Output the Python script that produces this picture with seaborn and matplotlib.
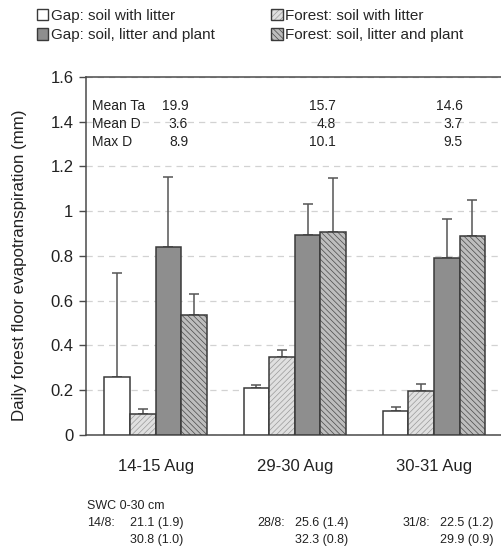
import matplotlib
matplotlib.use("Agg")
import matplotlib.pyplot as plt
from matplotlib.colors import to_rgba
from matplotlib.patches import Patch
import numpy as np
import pandas as pd
import seaborn as sns

# --- data -------------------------------------------------------------
periods = ["14-15 Aug", "29-30 Aug", "30-31 Aug"]
treatments = [
    "Gap: soil with litter",
    "Forest: soil with litter",
    "Gap: soil, litter and plant",
    "Forest: soil, litter and plant",
]
gap_litter = [0.26, 0.21, 0.107]
forest_litter = [0.093, 0.35, 0.196]
gap_plant = [0.841, 0.894, 0.789]
forest_plant = [0.536, 0.905, 0.888]

gap_litter_sd = [0.462, 0.012, 0.017]
forest_litter_sd = [0.022, 0.03, 0.032]
gap_plant_sd = [0.314, 0.14, 0.178]
forest_plant_sd = [0.092, 0.245, 0.161]

mean_ta = ["19.9", "15.7", "14.6"]
mean_d = ["3.6", "4.8", "3.7"]
max_d = ["8.9", "10.1", "9.5"]
swc_dates = ["14/8:", "28/8:", "31/8:"]
swc_gap = ["21.1 (1.9)", "25.6 (1.4)", "22.5 (1.2)"]
swc_forest = ["30.8 (1.0)", "32.3 (0.8)", "29.9 (0.9)"]

values = [gap_litter, forest_litter, gap_plant, forest_plant]
errors = [gap_litter_sd, forest_litter_sd, gap_plant_sd, forest_plant_sd]

df = pd.DataFrame(
    [(p, t, values[j][i], errors[j][i])
     for j, t in enumerate(treatments) for i, p in enumerate(periods)],
    columns=["period", "treatment", "et", "sd"],
)

# --- style ------------------------------------------------------------
sns.set_theme(style="white")
plt.rcParams["font.family"] = ["Liberation Sans", "DejaVu Sans"]
plt.rcParams["hatch.linewidth"] = 0.5

faces = ["#ffffff", "#e0e0e0", "#8e8e8e", "#bdbdbd"]
hatches = [None, "//////", None, "\\\\\\\\\\\\"]
hatch_colors = [None, "#9a9a9a", None, "#4a4a4a"]
edge = "#3a3a3a"
txt = "#222222"


def style_patch(p, j):
    p.set_facecolor(faces[j])
    p.set_edgecolor(edge)
    if hatches[j]:
        p.set_hatch(hatches[j])
        p._hatch_color = to_rgba(hatch_colors[j])


fig = plt.figure(figsize=(5.02, 5.47), dpi=100)
ax = fig.add_axes([0.1713, 0.2048, 0.832, 0.6545])

sns.barplot(
    data=df, x="period", y="et", hue="treatment",
    order=periods, hue_order=treatments,
    palette=faces, width=0.735, gap=0, errorbar=None,
    edgecolor=edge, linewidth=1.1, legend=False, ax=ax, zorder=3,
)

# hatches and upper error bars per treatment
bar_containers = list(ax.containers)
for j, cont in enumerate(bar_containers):
    xs = []
    for bar in cont.patches:
        style_patch(bar, j)
        xs.append(bar.get_x() + bar.get_width() / 2)
    ax.errorbar(
        xs, values[j], yerr=[np.zeros(len(xs)), errors[j]],
        fmt="none", ecolor="#555555", elinewidth=1.1,
        capsize=3.3, capthick=1.1, zorder=2,
    )

ax.set_xlim(-0.5, 2.5)
ax.set_ylim(0, 1.6)
ax.set_yticks(np.arange(0, 1.61, 0.2))
ax.set_yticklabels(["0", "0.2", "0.4", "0.6", "0.8", "1", "1.2", "1.4", "1.6"])
ax.yaxis.grid(True, linestyle=(0, (5, 4)), color="#d2d2d2", linewidth=0.9, zorder=0)
ax.xaxis.grid(False)

for s in ["left", "bottom", "top"]:
    ax.spines[s].set_color("#4a4a4a")
    ax.spines[s].set_linewidth(1.1)
ax.spines["right"].set_visible(False)

ax.set_xticks(range(len(periods)))
ax.set_xticklabels(periods, fontsize=12)
ax.set_xticks([-0.5, 0.5, 1.5], minor=True)
ax.tick_params(axis="x", which="major", length=0, pad=17, labelcolor=txt)
ax.tick_params(axis="x", which="minor", length=5, width=1, color="#4a4a4a", direction="out")
ax.tick_params(axis="y", length=5, width=1, color="#4a4a4a", direction="out",
               labelsize=12, left=True, labelcolor=txt, pad=4)
ax.set_xlabel("")
ax.set_ylabel("Daily forest floor evapotranspiration (mm)", fontsize=12.2, color=txt)
ax.yaxis.set_label_coords(-0.1415, 0.475)

# meteorological summary inside the plot
row_y = [0.919, 0.869, 0.818]
labels = ["Mean Ta", "Mean D", "Max D"]
value_x = [0.2446, 0.5977, 0.9021]
for r, (lab, vals) in enumerate(zip(labels, [mean_ta, mean_d, max_d])):
    ax.text(0.0144, row_y[r], lab, transform=ax.transAxes, fontsize=10,
            va="center", ha="left", color=txt)
    for k, v in enumerate(vals):
        ax.text(value_x[k], row_y[r], v, transform=ax.transAxes, fontsize=10,
                va="center", ha="right", color=txt)

# soil water content below the plot
fig.text(87 / 502, 1 - 506 / 547, "SWC 0-30 cm", fontsize=9, va="center", color=txt)
date_x = [87, 257, 403]
val_x = [130, 295, 440]
for k in range(3):
    fig.text(date_x[k] / 502, 1 - 523 / 547, swc_dates[k], fontsize=9, va="center", color=txt)
    fig.text(val_x[k] / 502, 1 - 523 / 547, swc_gap[k], fontsize=9, va="center", color=txt)
    fig.text(val_x[k] / 502, 1 - 540 / 547, swc_forest[k], fontsize=9, va="center", color=txt)

# legend at top
handles = []
for j in range(4):
    h = Patch(linewidth=1)
    style_patch(h, j)
    handles.append(h)
order = [0, 2, 1, 3]
fig.legend(
    [handles[i] for i in order], [treatments[i] for i in order],
    ncol=2, loc="upper left", bbox_to_anchor=(37 / 502, 1 - 9 / 547),
    frameon=False, fontsize=11, handlelength=0.75, handleheight=0.75,
    handletextpad=0.15, columnspacing=3.7, labelspacing=0.35,
    borderaxespad=0, borderpad=0,
)

fig.savefig("out.png", dpi=100)
